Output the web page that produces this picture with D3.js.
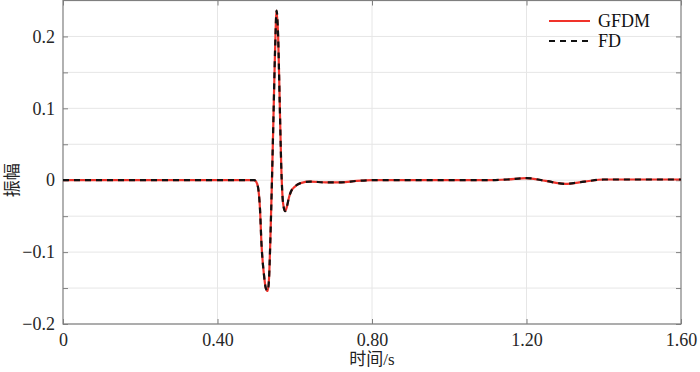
<!DOCTYPE html>
<html>
<head>
<meta charset="utf-8">
<script src="https://cdn.jsdelivr.net/npm/d3@7"></script>
<style>
  body { margin: 0; background: #fff; }
  text { font-family: "Liberation Serif", "Noto Sans CJK SC", serif; }
</style>
</head>
<body>
<div id="chart"></div>
<script>
// time (s) and amplitude
let times = [0, 0.30, 0.48, 0.495, 0.500, 0.505, 0.510, 0.514, 0.520, 0.525, 0.530, 0.534, 0.537, 0.541, 0.545, 0.549, 0.553, 0.557, 0.561, 0.565, 0.570, 0.575, 0.580, 0.585, 0.590, 0.600, 0.615, 0.640, 0.680, 0.720, 0.760, 0.800, 1.00, 1.10, 1.15, 1.20, 1.25, 1.30, 1.35, 1.40, 1.45, 1.50, 1.60]
let gfdm  = [0, 0, 0, 0, -0.002, -0.01, -0.04, -0.09, -0.13, -0.15, -0.154, -0.13, -0.08, 0, 0.09, 0.18, 0.236, 0.20, 0.11, 0.02, -0.033, -0.043, -0.036, -0.024, -0.016, -0.009, -0.004, -0.002, -0.003, -0.003, -0.001, 0, 0, 0, 0.001, 0.003, -0.001, -0.005, -0.002, 0.001, 0.001, 0.001, 0.001]
let fd    = gfdm.slice()

let x_ticks = [0, 0.4, 0.8, 1.2, 1.6]
let y_ticks = [-0.2, -0.1, 0, 0.1, 0.2]
let y_minor = [-0.2, -0.15, -0.1, -0.05, 0, 0.05, 0.1, 0.15, 0.2]
let legend_names = ["GFDM", "FD"]

let w = 700, h = 372
let pl = 63, pr = 681, pt = 0.5, pb = 324
let serif = "'Liberation Serif', 'Noto Sans CJK SC', serif"

let svg = d3.select("#chart").append("svg")
    .attr("width", w)
    .attr("height", h)

let x = d3.scaleLinear().domain([0, 1.6]).range([pl, pr])
let y = d3.scaleLinear().domain([-0.2, 0.25]).range([pb, pt])

let axis_color = "#7f7f7f"
let grid_color = "#e6e6e6"

// grid
svg.append("g").selectAll("line")
    .data(y_minor)
    .enter().append("line")
    .attr("x1", pl).attr("x2", pr)
    .attr("y1", d => y(d)).attr("y2", d => y(d))
    .attr("stroke", grid_color).attr("stroke-width", 1)

svg.append("g").selectAll("line")
    .data(x_ticks.slice(1, -1))
    .enter().append("line")
    .attr("y1", pt).attr("y2", pb)
    .attr("x1", d => x(d)).attr("x2", d => x(d))
    .attr("stroke", grid_color).attr("stroke-width", 1)

// axes with inward ticks
let fmt_y = d => d == 0 ? "0" : d3.format(".1f")(d).replace("-", "\u2212")
let fmt_x = d => d == 0 ? "0" : d3.format(".2f")(d)

svg.append("g")
    .attr("transform", `translate(${pl},0)`)
    .call(d3.axisLeft(y).tickValues(y_minor).tickSize(-5).tickPadding(8)
        .tickFormat(d => y_ticks.some(t => Math.abs(t - d) < 1e-9) ? fmt_y(d) : ""))
    .call(g => g.select(".domain").remove())
svg.append("g")
    .attr("transform", `translate(${pr},0)`)
    .call(d3.axisRight(y).tickValues(y_minor).tickSize(-5).tickFormat(""))
    .call(g => g.select(".domain").remove())
svg.append("g")
    .attr("transform", `translate(0,${pb})`)
    .call(d3.axisBottom(x).tickValues(x_ticks).tickSize(-5).tickPadding(9).tickFormat(fmt_x))
    .call(g => g.select(".domain").remove())
svg.append("g")
    .attr("transform", `translate(0,${pt})`)
    .call(d3.axisTop(x).tickValues(x_ticks).tickSize(-5).tickFormat(""))
    .call(g => g.select(".domain").remove())

svg.selectAll("g").attr("font-family", serif)
svg.selectAll(".tick line").attr("stroke", axis_color)
svg.selectAll(".tick text")
    .attr("fill", "#262626")
    .style("font-family", serif)
    .style("font-size", "18px")

// frame
svg.append("rect")
    .attr("x", pl).attr("y", pt)
    .attr("width", pr - pl).attr("height", pb - pt)
    .attr("fill", "none").attr("stroke", axis_color).attr("stroke-width", 1.2)

// curves
let line = d3.line().x(d => x(d[0])).y(d => y(d[1])).curve(d3.curveMonotoneX)

svg.append("path")
    .datum(times.map((t, i) => [t, gfdm[i]]))
    .attr("d", line)
    .attr("fill", "none").attr("stroke", "#f0322a").attr("stroke-width", 2.2)

svg.append("path")
    .datum(times.map((t, i) => [t, fd[i]]))
    .attr("d", line)
    .attr("fill", "none").attr("stroke", "#111").attr("stroke-width", 2.2)
    .attr("stroke-dasharray", "6,5")

// legend
let lg = svg.append("g")
lg.selectAll("line")
    .data(legend_names)
    .enter().append("line")
    .attr("x1", 549).attr("x2", 590)
    .attr("y1", (_, i) => 21 + i * 20).attr("y2", (_, i) => 21 + i * 20)
    .attr("stroke", (_, i) => i == 0 ? "#f0322a" : "#111")
    .attr("stroke-width", 2)
    .attr("stroke-dasharray", (_, i) => i == 0 ? null : "6,5")
lg.selectAll("text")
    .data(legend_names)
    .enter().append("text")
    .attr("x", 598)
    .attr("y", (_, i) => 27 + i * 20)
    .style("font-family", serif)
    .style("font-size", "18px")
    .attr("fill", "#111")
    .text(d => d)

// axis labels
svg.append("text")
    .attr("x", x(0.8)).attr("y", 365)
    .attr("text-anchor", "middle")
    .style("font-family", serif)
    .style("font-size", "17px")
    .attr("fill", "#222")
    .text("时间/s")
svg.append("text")
    .attr("transform", `translate(18,${y(0)}) rotate(-90)`)
    .attr("text-anchor", "middle")
    .style("font-family", serif)
    .style("font-size", "17px")
    .attr("fill", "#222")
    .text("振幅")
</script>
</body>
</html>
